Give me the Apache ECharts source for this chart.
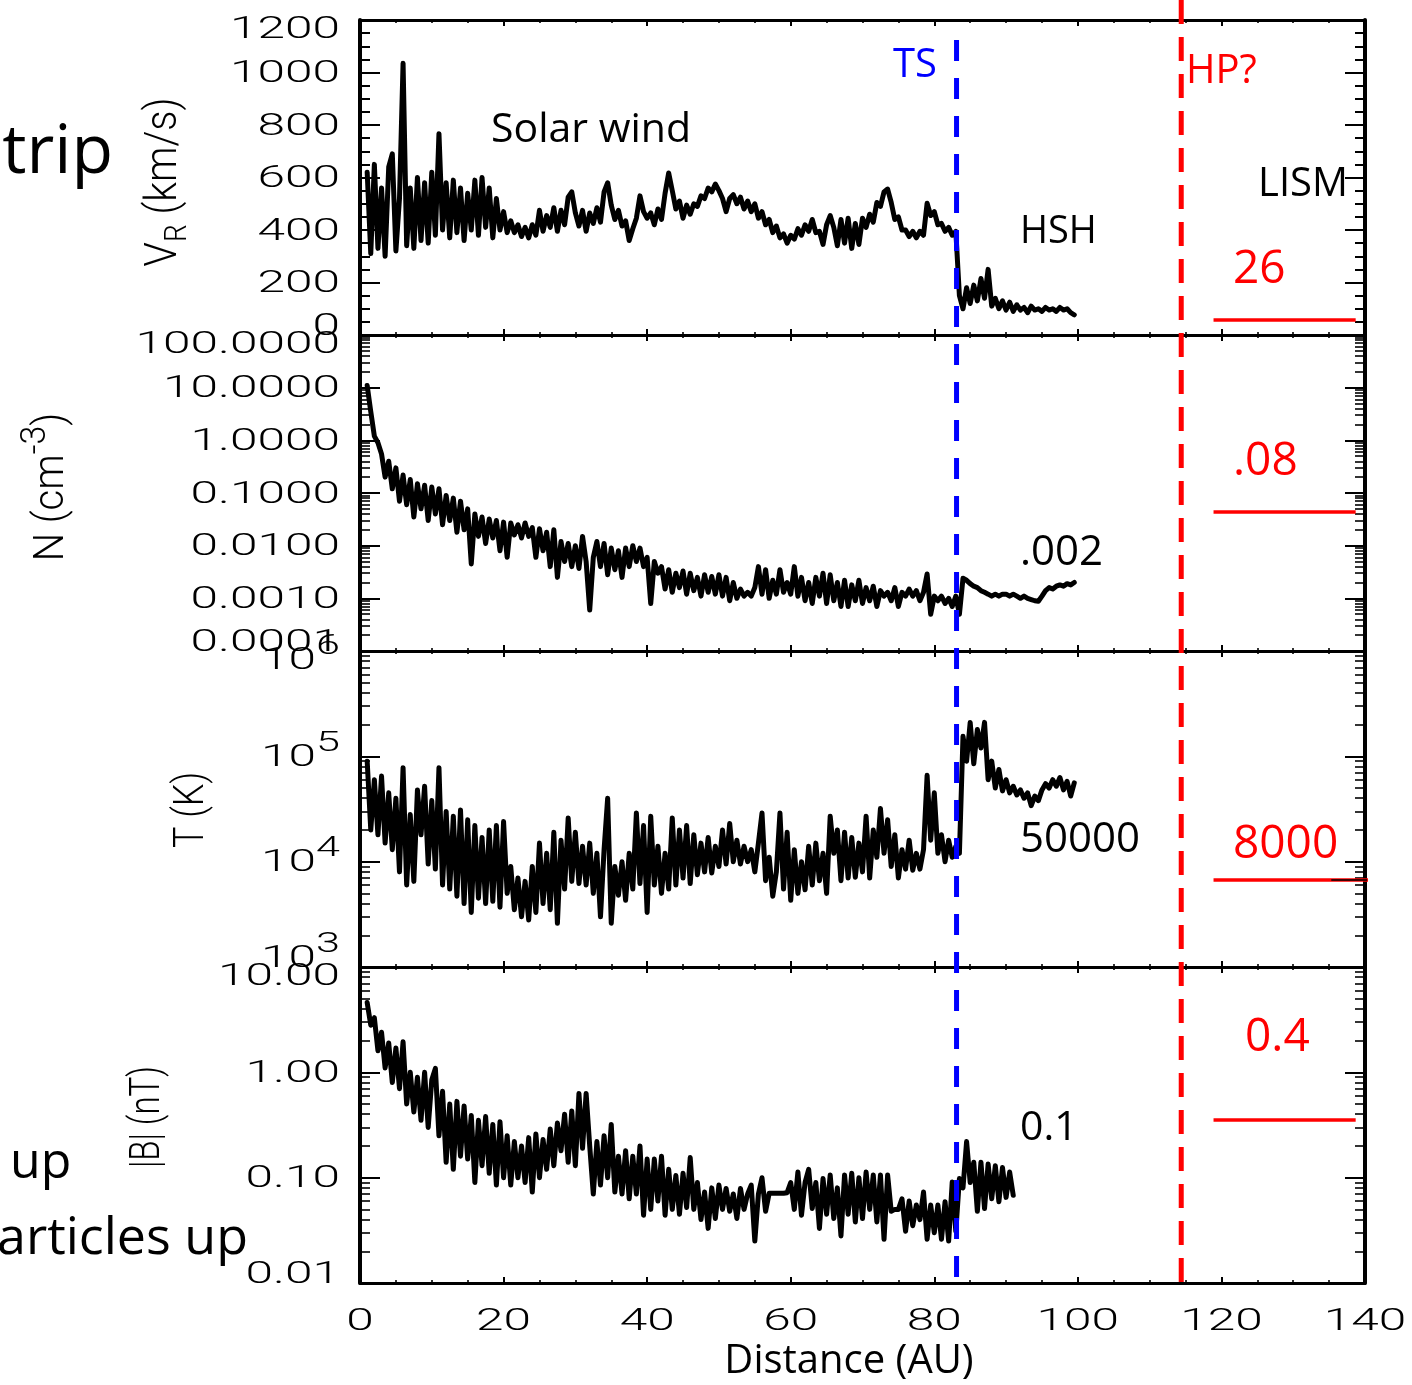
<!DOCTYPE html>
<html><head><meta charset="utf-8">
<script src="https://cdn.jsdelivr.net/npm/echarts@6/dist/echarts.min.js"></script>
<style>html,body{margin:0;padding:0;background:#fff}#c{width:1412px;height:1385px}</style>
</head><body><div id="c"></div>
<script>
// ---------------- DATA ----------------
const AU_START = 1.0, AU_STEP = 0.5;   // sampling grid of the traces (AU)

const speedKmS = [
620,310,650,330,560,300,640,690,320,520,
1035,340,560,330,600,360,580,350,620,380,
767,400,580,370,590,390,560,360,540,400,
590,380,600,410,560,370,520,400,470,390,
435,390,420,375,410,370,420,380,475,395,
455,410,485,395,475,420,525,545,465,415,
475,395,465,425,485,430,545,580,495,440,
475,415,435,360,405,445,530,470,445,465,
420,480,440,540,617,550,480,510,445,495,
460,500,490,530,520,560,545,575,550,520,
470,520,535,500,525,480,510,470,500,445,
470,420,440,390,415,370,385,350,380,365,
405,380,420,395,440,390,395,345,420,455,
410,340,440,350,445,330,425,345,445,410,
460,430,505,490,545,556,505,440,450,400,
400,375,395,370,395,380,502,455,470,420,
425,395,410,380,395,150,100,180,120,190,
130,215,140,250,110,140,100,130,95,125,
90,115,95,105,85,110,95,100,90,105,
95,100,90,105,95,100,85,77];

const densityCm3 = [
11,3.5,1.2,0.9,0.55,0.2,0.4,0.12,0.3,0.07,
0.22,0.06,0.18,0.035,0.15,0.05,0.14,0.03,0.13,0.04,
0.12,0.025,0.09,0.03,0.08,0.018,0.07,0.02,0.05,0.0045,
0.04,0.015,0.035,0.011,0.032,0.014,0.03,0.008,0.028,0.006,
0.027,0.016,0.025,0.014,0.027,0.015,0.022,0.006,0.021,0.008,
0.018,0.004,0.02,0.0025,0.012,0.005,0.011,0.004,0.01,0.0037,
0.015,0.005,0.0006,0.006,0.012,0.004,0.011,0.0028,0.009,0.0035,
0.008,0.0025,0.009,0.004,0.01,0.005,0.009,0.004,0.006,0.0008,
0.005,0.003,0.004,0.0015,0.0035,0.0013,0.003,0.0016,0.0033,0.0012,
0.003,0.0014,0.0025,0.0011,0.0028,0.0013,0.0026,0.0012,0.0028,0.0011,
0.0025,0.0009,0.002,0.001,0.0015,0.0011,0.0013,0.0011,0.0016,0.004,
0.0012,0.0035,0.001,0.0022,0.0012,0.0035,0.0013,0.002,0.0012,0.004,
0.0011,0.0025,0.0009,0.002,0.0008,0.0025,0.0011,0.003,0.0008,0.0028,
0.0009,0.002,0.0007,0.0022,0.0007,0.0018,0.0009,0.0022,0.0008,0.0016,
0.0009,0.0017,0.0007,0.0014,0.0011,0.0013,0.0009,0.0016,0.0007,0.0013,
0.0011,0.0015,0.0011,0.0014,0.0009,0.0013,0.0029,0.0005,0.0011,0.0009,
0.0011,0.0008,0.001,0.0007,0.0011,0.0005,0.0024,0.0022,0.0019,0.0017,
0.0016,0.0014,0.0013,0.0012,0.0011,0.0012,0.0011,0.0012,0.0012,0.0011,
0.0012,0.0011,0.001,0.0011,0.001,0.00095,0.0009,0.00088,0.0011,0.0014,
0.0016,0.0015,0.0017,0.0018,0.0017,0.0019,0.0018,0.002];

const temperatureK = [
90000,20000,60000,18000,65000,15000,45000,13000,40000,8000,
78000,6000,28000,6500,48000,18000,52000,9500,38000,8500,
78000,6000,30000,5500,27000,4700,31000,4000,25000,3300,
22000,4500,17000,4000,20000,4200,22000,3700,24000,5000,
9000,3500,7000,3000,6500,2800,9000,3300,15000,4000,
12000,3500,19000,2600,16000,5500,26000,6500,19000,6200,
14000,6000,15000,5000,12000,3000,13000,40000,2600,9000,
4800,10000,4300,12000,5500,29000,6200,22000,3300,27000,
6000,14000,5000,12000,5500,26000,6000,20000,7000,22000,
6200,18000,7500,15000,8000,17000,7800,14000,9000,20000,
9500,23000,10000,16000,9500,14000,10000,13000,8000,15000,
29000,6600,11000,4700,8000,29000,5500,19000,4300,13000,
5000,10000,5400,14000,6000,15000,6600,12000,5000,27000,
12000,20000,6600,19000,7000,17000,7100,15000,8000,27000,
7000,20000,11000,32000,12000,25000,9000,18000,7000,13000,
8500,16000,8300,12000,8500,13000,66000,16000,45000,12000,
18000,10000,16000,11000,14000,12000,155000,90000,210000,85000,
180000,120000,210000,60000,90000,50000,75000,47000,60000,45000,
52000,43000,48000,40000,45000,34000,42000,38000,48000,55000,
50000,60000,52000,63000,48000,58000,42000,56000];

const fieldNT = [
4.6,2.8,3.3,1.6,2.4,1.1,1.9,0.8,1.7,0.7,
1.95,0.5,1.0,0.42,0.9,0.35,1.0,0.3,0.85,1.09,
0.25,0.66,0.14,0.5,0.12,0.53,0.16,0.48,0.15,0.39,
0.09,0.35,0.13,0.38,0.11,0.32,0.085,0.34,0.1,0.25,
0.085,0.22,0.1,0.2,0.09,0.24,0.073,0.26,0.1,0.23,
0.12,0.29,0.13,0.33,0.18,0.4,0.14,0.43,0.13,0.63,
0.19,0.63,0.2,0.07,0.22,0.085,0.25,0.1,0.32,0.073,
0.16,0.07,0.18,0.063,0.16,0.07,0.2,0.044,0.15,0.05,
0.15,0.06,0.16,0.044,0.12,0.05,0.105,0.045,0.11,0.052,
0.155,0.05,0.09,0.04,0.073,0.033,0.08,0.041,0.085,0.05,
0.079,0.048,0.07,0.041,0.079,0.05,0.07,0.085,0.025,0.07,
0.1,0.048,0.071,0.071,0.071,0.071,0.071,0.072,0.09,0.05,
0.113,0.044,0.09,0.12,0.051,0.09,0.033,0.098,0.045,0.106,
0.041,0.08,0.028,0.106,0.045,0.11,0.038,0.1,0.041,0.113,
0.05,0.106,0.038,0.106,0.026,0.106,0.048,0.05,0.05,0.063,
0.031,0.06,0.035,0.055,0.04,0.073,0.026,0.055,0.03,0.055,
0.026,0.059,0.025,0.091,0.031,0.098,0.08,0.22,0.09,0.14,
0.048,0.14,0.051,0.135,0.063,0.13,0.059,0.125,0.065,0.113,
0.068];

// tick values and labels
const xTicks = [0,20,40,60,80,100,120,140];
const xTickLabels = ['0','20','40','60','80','100','120','140'];
const vTicks = [0,200,400,600,800,1000,1200];
const vTickLabels = ['0','200','400','600','800','1000','1200'];
const nTicks = [0.0001,0.001,0.01,0.1,1,10,100];
const nTickLabels = ['0.0001','0.0010','0.0100','0.1000','1.0000','10.0000','100.0000'];
const tTicks = [1000,10000,100000,1000000];
const tTickBase = ['10','10','10','10'];
const tTickExp = ['3','4','5','6'];
const bTicks = [0.01,0.1,1,10];
const bTickLabels = ['0.01','0.10','1.00','10.00'];

// boundaries and LISM reference levels
const tsDistance = 83.1, hpDistance = 114.4;
const lismStart = 118.9, lismEnd = 138.7, lismEndT = 141;
const lismSpeed = 57, lismDensity = 0.0436, lismTemp = 6700, lismField = 0.353;

// ---------------- CHART ----------------
const chart = echarts.init(document.getElementById('c'), null, {renderer: 'canvas'});
const panels = [{top: 20, height: 315}, {top: 335, height: 316}, {top: 651, height: 316}, {top: 967, height: 316}];

function logMinors(e0, e1) {
  const out = [];
  for (let e = e0; e < e1; e++) for (let k = 2; k <= 9; k++) out.push(+(k * Math.pow(10, e)).toPrecision(3));
  return out;
}
const BLACK = '#000';
function xAx(gi, pos) {
  return {type: 'value', gridIndex: gi, position: pos, min: 0, max: 140, interval: 20,
    axisLine: {show: true, onZero: false, lineStyle: {color: BLACK, width: 3}},
    axisTick: {show: true, inside: true, length: 6, lineStyle: {color: BLACK, width: 2}},
    minorTick: {show: true, splitNumber: 4, length: 3, lineStyle: {color: BLACK, width: 1.6}},
    axisLabel: {show: false}, splitLine: {show: false}, minorSplitLine: {show: false}};
}
function yBase(gi, pos, extra) {
  return Object.assign({gridIndex: gi, position: pos,
    axisLine: {show: true, onZero: false, lineStyle: {color: BLACK, width: 4}},
    axisLabel: {show: false}, splitLine: {show: false}, minorSplitLine: {show: false}}, extra);
}
function vAx(pos) {
  return yBase(0, pos, {type: 'value', min: 0, max: 1200, interval: 200,
    axisTick: {show: true, inside: true, length: 20, lineStyle: {color: BLACK, width: 2}},
    minorTick: {show: true, splitNumber: 4, length: 10, lineStyle: {color: BLACK, width: 2}}});
}
function logAxes(gi, pos, min, max, majors, e0, e1) {
  return [
    yBase(gi, pos, {type: 'log', logBase: 10, min: min, max: max,
      axisTick: {show: true, inside: true, length: 20, customValues: majors, lineStyle: {color: BLACK, width: 2}}}),
    yBase(gi, pos, {type: 'log', logBase: 10, min: min, max: max,
      axisLine: {show: false, onZero: false},
      axisTick: {show: true, inside: true, length: 10, customValues: logMinors(e0, e1), lineStyle: {color: BLACK, width: 1.6}}})
  ];
}

const xAxes = [];
panels.forEach((p, i) => { xAxes.push(xAx(i, 'bottom')); xAxes.push(xAx(i, 'top')); });
const yAxes = [vAx('left'), vAx('right'),
  ...logAxes(1, 'left', 0.0001, 100, nTicks, -4, 2), ...logAxes(1, 'right', 0.0001, 100, nTicks, -4, 2),
  ...logAxes(2, 'left', 1000, 1000000, tTicks, 3, 6), ...logAxes(2, 'right', 1000, 1000000, tTicks, 3, 6),
  ...logAxes(3, 'left', 0.01, 10, bTicks, -2, 1), ...logAxes(3, 'right', 0.01, 10, bTicks, -2, 1)];
// y axis index of the series in each panel: 0, 2, 6, 10 ; x axis index: 0, 2, 4, 6

function trace(values, xi, yi) {
  return {type: 'line', xAxisIndex: xi, yAxisIndex: yi, symbol: 'none', showSymbol: false,
    data: values.map((v, i) => [AU_START + i * AU_STEP, v]),
    lineStyle: {color: BLACK, width: 5, join: 'round', cap: 'round'}, silent: true, z: 3};
}
function level(xi, yi, x0, x1, v, color, width) {
  return {type: 'line', xAxisIndex: xi, yAxisIndex: yi, symbol: 'none', clip: false, silent: true,
    data: [[x0, v], [x1, v]], lineStyle: {color: color, width: width}, z: 4};
}

chart.setOption({
  animation: false,
  backgroundColor: '#fff',
  grid: panels.map(p => ({left: 360, right: 47, top: p.top, height: p.height, containLabel: false})),
  xAxis: xAxes,
  yAxis: yAxes,
  series: [
    trace(speedKmS, 0, 0),
    trace(densityCm3, 2, 2),
    trace(temperatureK, 4, 6),
    trace(fieldNT, 6, 10),
    level(0, 0, lismStart, lismEnd, lismSpeed, '#ff0000', 3.5),
    level(2, 2, lismStart, lismEnd, lismDensity, '#ff0000', 3.5),
    level(4, 6, lismStart, lismEndT, lismTemp, '#ff0000', 3.5),
    level(4, 6, 135.3, lismEndT, lismTemp, BLACK, 1.4),
    level(6, 10, lismStart, lismEnd, lismField, '#ff0000', 3.5)
  ]
});

// ---------------- labels & overlays ----------------
const TF = 'Roboto, "DejaVu Sans", sans-serif';
const AF = '"Open Sans", "Noto Sans", sans-serif';
const g = [];
function txt(x, y, text, opt) {
  opt = opt || {};
  const align = opt.align || 'left';
  const el = {type: 'text', x: x, y: y, z: 50, silent: true,
    scaleX: opt.sx || 1, scaleY: opt.sy || 1, rotation: opt.rot || 0,
    style: {text: text, x: 0, y: 0, fill: opt.color || BLACK,
      fontFamily: opt.font || AF, fontSize: opt.size || 40, fontWeight: opt.weight || 'normal',
      align: align, verticalAlign: 'middle', textAlign: align, textVerticalAlign: 'middle'}};
  if (opt.rich) el.style.rich = opt.rich;
  return el;
}
const TICK = {font: TF, size: 31, weight: 300, sx: 1.6, align: 'right'};
function yLabels(axisIdx, ticks, labels) {
  ticks.forEach((t, i) => {
    let y = chart.convertToPixel({yAxisIndex: axisIdx}, t);
    y += (i === 0) ? -8 : (i === ticks.length - 1 ? 10 : 2);
    g.push(txt(340, y, labels[i], TICK));
  });
}
yLabels(0, vTicks, vTickLabels);
yLabels(2, nTicks, nTickLabels);
yLabels(10, bTicks, bTickLabels);
tTicks.forEach((t, i) => {
  let y = chart.convertToPixel({yAxisIndex: 6}, t);
  y += (i === 0) ? -8 : (i === tTicks.length - 1 ? 10 : 2);
  g.push(txt(340, y, '{b|' + tTickBase[i] + '}{e|' + tTickExp[i] + '}', Object.assign({}, TICK, {
    rich: {b: {fontFamily: TF, fontSize: 31, fontWeight: 300, fill: BLACK},
           e: {fontFamily: TF, fontSize: 27, fontWeight: 300, fill: BLACK, padding: [0, 0, 28, 0]}}})));
});
const xLabelY = chart.convertToPixel({yAxisIndex: 10}, 0.01) + 39;
xTicks.forEach((t, i) => {
  const x = chart.convertToPixel({xAxisIndex: 6}, t);
  g.push(txt(x, xLabelY, xTickLabels[i], Object.assign({}, TICK, {align: 'center'})));
});

// axis titles (rotated)
const R90 = Math.PI / 2;
g.push(txt(165, 182, '{a|V}{s|R}{a| (km/s)}', {font: TF, size: 40, weight: 300, rot: R90, sy: 1.1, align: 'center',
  rich: {a: {fontFamily: TF, fontSize: 40, fontWeight: 300, fill: BLACK},
         s: {fontFamily: TF, fontSize: 28, fontWeight: 300, fill: BLACK, padding: [24, 0, 0, 0]}}}));
g.push(txt(52, 487, '{a|N (cm}{p|-3}{a|)}', {font: TF, size: 40, weight: 300, rot: R90, sy: 1.05, align: 'center',
  rich: {a: {fontFamily: TF, fontSize: 40, fontWeight: 300, fill: BLACK},
         p: {fontFamily: TF, fontSize: 34, fontWeight: 300, fill: BLACK, padding: [0, 0, 30, 0]}}}));
g.push(txt(192, 810, 'T (K)', {font: TF, size: 36, weight: 300, rot: R90, sy: 1.17, align: 'center'}));
g.push(txt(148, 1117, '|B| (nT)', {font: TF, size: 33, weight: 300, rot: R90, sy: 1.28, align: 'center'}));

// annotations
g.push(txt(491, 130, 'Solar wind', {size: 41}));
g.push(txt(893, 66, 'TS', {size: 40, color: '#0000ff'}));
g.push(txt(1186, 72, 'HP?', {size: 40, color: '#ff0000'}));
g.push(txt(1258, 185, 'LISM', {size: 40}));
g.push(txt(1020, 232, 'HSH', {size: 38}));
g.push(txt(1233, 270, '26', {size: 46, color: '#ff0000'}));
g.push(txt(1233, 462, '.08', {size: 46, color: '#ff0000'}));
g.push(txt(1233, 845, '8000', {size: 46, color: '#ff0000'}));
g.push(txt(1245, 1038, '0.4', {size: 46, color: '#ff0000'}));
g.push(txt(1020, 553, '.002', {size: 42}));
g.push(txt(1020, 840, '50000', {size: 42}));
g.push(txt(1020, 1128, '0.1', {size: 41}));
g.push(txt(849, 1362, 'Distance (AU)', {size: 40, align: 'center'}));
g.push(txt(113, 154, 'trip', {size: 68, align: 'right'}));
g.push(txt(10, 1164, 'up', {size: 50}));
g.push(txt(-3, 1239, 'articles up', {size: 52}));

// boundary lines (TS, HP?)
const tsX = chart.convertToPixel({xAxisIndex: 0}, tsDistance);
const hpX = chart.convertToPixel({xAxisIndex: 0}, hpDistance);
const yBottom = chart.convertToPixel({yAxisIndex: 10}, 0.01);
g.push({type: 'line', z: 40, silent: true,
  shape: {x1: tsX, y1: chart.convertToPixel({yAxisIndex: 0}, 1124), x2: tsX, y2: yBottom},
  style: {stroke: '#0000ff', lineWidth: 5, lineDash: [21, 17]}});
g.push({type: 'line', z: 40, silent: true,
  shape: {x1: hpX, y1: chart.convertToPixel({yAxisIndex: 0}, 1276), x2: hpX, y2: yBottom},
  style: {stroke: '#ff0000', lineWidth: 5, lineDash: [24, 13]}});

chart.setOption({graphic: {elements: g}});
</script></body></html>
